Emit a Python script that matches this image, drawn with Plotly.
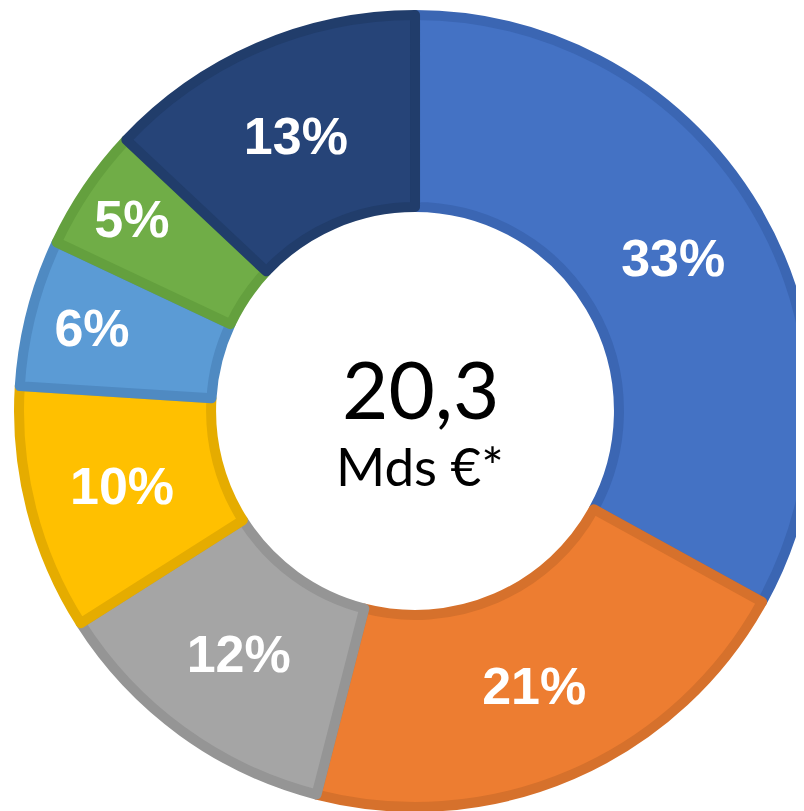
import plotly.graph_objects as go

labels = ["A", "B", "C", "D", "E", "F", "G"]
values = [33, 21, 12, 10, 6, 5, 13]
text_labels = ["33%", "21%", "12%", "10%", "6%", "5%", "13%"]
fill_colors = ["#4472C4", "#ED7D31", "#A5A5A5", "#FFC000", "#5B9BD5", "#70AD47", "#264478"]
line_colors = ["#3B66B3", "#D6712C", "#959595", "#E5AC00", "#4F8AC2", "#64A03E", "#213D6B"]
center_value = "20,3"
center_unit = "Mds €*"

fig = go.Figure(go.Pie(
    labels=labels,
    values=values,
    text=text_labels,
    textinfo="text",
    textposition="inside",
    insidetextorientation="horizontal",
    sort=False,
    direction="clockwise",
    rotation=0,
    hole=0.515,
    marker=dict(colors=fill_colors, line=dict(color=line_colors, width=10)),
    textfont=dict(family="Liberation Sans, Arial, sans-serif", size=52, color="white", weight="bold"),
    domain=dict(x=[0.0137, 0.9988], y=[0.0148, 0.9914]),
    showlegend=False,
    hoverinfo="skip",
))

fig.add_annotation(x=0.513, y=0.531, xref="paper", yref="paper", text=center_value,
                   showarrow=False, font=dict(family="Lato, sans-serif", size=80, color="black"))
fig.add_annotation(x=0.512, y=0.436, xref="paper", yref="paper", text=center_unit,
                   showarrow=False, font=dict(family="Lato, sans-serif", size=53, color="black"))

fig.update_layout(
    width=804, height=811,
    margin=dict(l=0, r=0, t=0, b=0),
    paper_bgcolor="white",
    plot_bgcolor="white",
)

fig.write_html("out.html")
